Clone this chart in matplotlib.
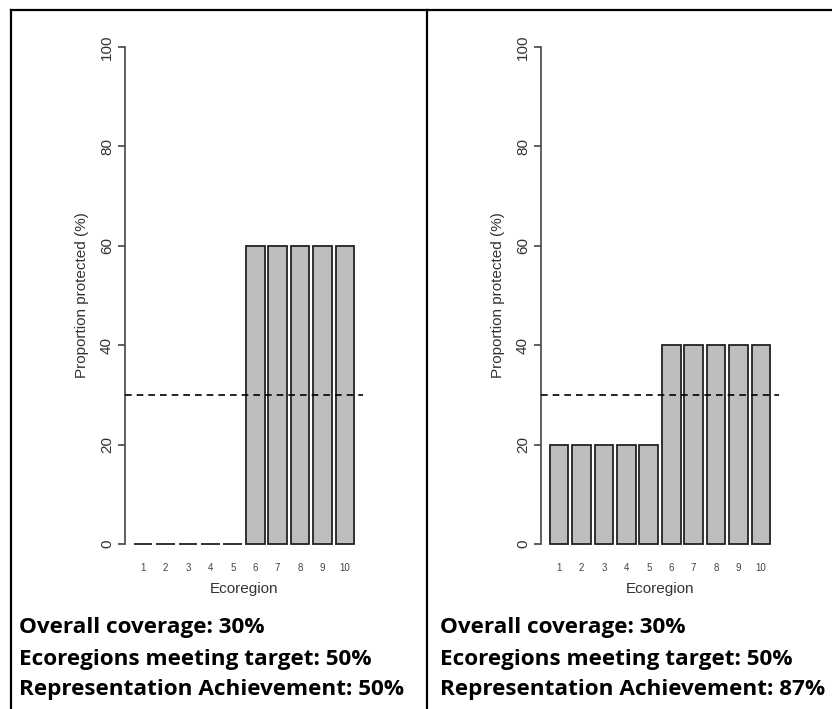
import matplotlib
matplotlib.use("Agg")
import matplotlib.pyplot as plt
from matplotlib.lines import Line2D

plt.rcParams['font.family'] = ['Liberation Sans', 'DejaVu Sans']

# data
ecoregions = [str(i) for i in range(1, 11)]
protected_left = [0, 0, 0, 0, 0, 60, 60, 60, 60, 60]
protected_right = [20, 20, 20, 20, 20, 40, 40, 40, 40, 40]
target = 30
y_ticks = [0, 20, 40, 60, 80, 100]
summary_left = ["Overall coverage: 30%",
                "Ecoregions meeting target: 50%",
                "Representation Achievement: 50%"]
summary_right = ["Overall coverage: 30%",
                 "Ecoregions meeting target: 50%",
                 "Representation Achievement: 87%"]

W, H = 832, 709
fig = plt.figure(figsize=(W / 100, H / 100), dpi=100)
fig.patch.set_facecolor('white')


def px_axes(x0, x1, y_top, y_bot):
    return fig.add_axes([x0 / W, 1 - y_bot / H, (x1 - x0) / W, (y_bot - y_top) / H])


def draw_panel(ax, values):
    # R barplot layout: width 1, space 0.2
    centers = [0.7 + 1.2 * i for i in range(len(values))]
    ax.bar(centers, values, width=1.0, color='#BEBEBE', edgecolor='#222222',
           linewidth=1.3, zorder=2)
    ax.axhline(target, color='black', linestyle=(0, (4, 3)), linewidth=1.2, zorder=3)
    ax.set_xlim(-0.27, 12.47)
    ax.set_ylim(-4, 104)
    for s in ['top', 'right', 'bottom']:
        ax.spines[s].set_visible(False)
    ax.spines['left'].set_bounds(0, 100)
    ax.spines['left'].set_color('#444444')
    ax.spines['left'].set_linewidth(1.2)
    ax.set_yticks(y_ticks)
    ax.set_yticklabels([str(t) for t in y_ticks], rotation=90, va='center')
    ax.tick_params(axis='y', length=5, width=1.2, color='#444444', pad=3,
                   labelsize=11, labelcolor='#333333')
    ax.set_xticks(centers)
    ax.set_xticklabels(ecoregions)
    ax.tick_params(axis='x', length=0, pad=-1, labelsize=7, labelcolor='#444444')
    ax.set_xlabel("Ecoregion", fontsize=11, color='#333333', labelpad=7)
    ax.set_ylabel("Proportion protected (%)", fontsize=11, color='#333333', labelpad=8)
    ax.patch.set_alpha(0)


ax1 = px_axes(125, 363, 27, 564)
draw_panel(ax1, protected_left)
ax2 = px_axes(541, 779, 27, 564)
draw_panel(ax2, protected_right)

# table borders
lw = 1.6
fig.add_artist(Line2D([11 / W, 1], [1 - 10 / H, 1 - 10 / H], color='black', lw=lw))
fig.add_artist(Line2D([11 / W, 11 / W], [0, 1 - 10 / H], color='black', lw=lw))
fig.add_artist(Line2D([427 / W, 427 / W], [0, 1 - 10 / H], color='black', lw=lw))

# summary text
for x0, lines in [(19, summary_left), (440, summary_right)]:
    for yc, txt in zip([627, 659, 690], lines):
        fig.text(x0 / W, 1 - yc / H, txt, fontsize=16.2, fontweight='bold',
                 family=['Open Sans', 'DejaVu Sans'], ha='left', va='center',
                 color='black')

fig.savefig("out.png", dpi=100, facecolor='white')
